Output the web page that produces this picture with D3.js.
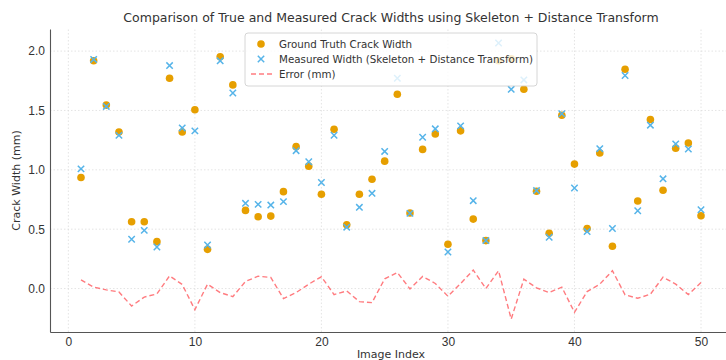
<!DOCTYPE html>
<html>
<head>
<meta charset="utf-8">
<script src="https://cdn.jsdelivr.net/npm/d3@7"></script>
<style>
  body { margin: 0; background: #fff; }
  svg { font-family: "DejaVu Sans", sans-serif; display: block; }
</style>
</head>
<body>
<div id="chart"></div>
<script>
// Data
const imageIndex = d3.range(1, 51);
const groundTruth = [
  0.935, 1.918, 1.545, 1.319, 0.562, 0.562, 0.395, 1.771, 1.319, 1.506,
  0.330, 1.952, 1.715, 0.658, 0.605, 0.610, 0.816, 1.195, 1.031, 0.794,
  1.342, 0.537, 0.794, 0.921, 1.073, 1.636, 0.636, 1.172, 1.302, 0.373,
  1.328, 0.585, 0.404, 1.918, 1.935, 1.678, 0.819, 0.466, 1.460, 1.048,
  0.506, 1.141, 0.356, 1.847, 0.737, 1.424, 0.828, 1.181, 1.226, 0.613
];
const measured = [
  1.008, 1.930, 1.534, 1.290, 0.415, 0.490, 0.350, 1.878, 1.353, 1.328,
  0.367, 1.918, 1.647, 0.718, 0.709, 0.703, 0.732, 1.161, 1.068, 0.893,
  1.291, 0.517, 0.684, 0.802, 1.155, 1.771, 0.633, 1.274, 1.345, 0.308,
  1.370, 0.740, 0.404, 2.068, 1.678, 1.757, 0.825, 0.432, 1.472, 0.847,
  0.480, 1.178, 0.506, 1.794, 0.655, 1.376, 0.924, 1.218, 1.175, 0.664
];
const errorMm = [
  0.073, 0.012, -0.011, -0.029, -0.147, -0.072, -0.045, 0.107, 0.034, -0.178,
  0.037, -0.034, -0.068, 0.060, 0.104, 0.093, -0.084, -0.034, 0.037, 0.099,
  -0.051, -0.020, -0.110, -0.119, 0.082, 0.135, -0.003, 0.102, 0.043, -0.065,
  0.042, 0.155, 0.000, 0.150, -0.257, 0.079, 0.006, -0.034, 0.012, -0.200,
  -0.026, 0.037, 0.150, -0.053, -0.082, -0.048, 0.096, 0.037, -0.051, 0.051
];
const xTicks = [0, 10, 20, 30, 40, 50];
const yTicks = [0.0, 0.5, 1.0, 1.5, 2.0];
const legendLabels = [
  "Ground Truth Crack Width",
  "Measured Width (Skeleton + Distance Transform)",
  "Error (mm)"
];

const width = 726, height = 360;
const margin = { left: 50, right: -6, top: 29, bottom: 28 };
const colGT = "#E69F00", colM = "#56B4E9", colErr = "#FF5A5F";

const svg = d3.select("#chart").append("svg")
  .attr("width", width)
  .attr("height", height);

const x = d3.scaleLinear()
  .domain([-1.45, 52.45])
  .range([margin.left, width - margin.right]);
const y = d3.scaleLinear()
  .domain([-0.366, 2.186])
  .range([height - margin.bottom, margin.top]);

// grid
const grid = svg.append("g");
grid.selectAll("line.gx").data(xTicks).join("line")
  .attr("x1", d => x(d)).attr("x2", d => x(d))
  .attr("y1", y.range()[0]).attr("y2", y.range()[1])
  .attr("stroke", "#ddd").attr("stroke-width", 0.8)
  .attr("stroke-dasharray", "1.5,2");
grid.selectAll("line.gy").data(yTicks).join("line")
  .attr("x1", x.range()[0]).attr("x2", x.range()[1])
  .attr("y1", d => y(d)).attr("y2", d => y(d))
  .attr("stroke", "#ddd").attr("stroke-width", 0.8)
  .attr("stroke-dasharray", "1.5,2");

// axes
const xAxis = svg.append("g")
  .attr("transform", `translate(0,${y.range()[0]})`)
  .call(d3.axisBottom(x).tickValues(xTicks).tickSize(0).tickPadding(5).tickFormat(d3.format("d")));
const yAxis = svg.append("g")
  .attr("transform", `translate(${x.range()[0]},0)`)
  .call(d3.axisLeft(y).tickValues(yTicks).tickSize(0).tickPadding(5).tickFormat(d3.format(".1f")));
[xAxis, yAxis].forEach(a => {
  a.select(".domain").attr("stroke", "#555").attr("stroke-width", 1.1);
  a.selectAll("text").attr("fill", "#333").style("font-size", "12px");
});

// ground truth circles
const idx = d3.range(imageIndex.length);
svg.append("g").selectAll("circle").data(idx).join("circle")
  .attr("cx", i => x(imageIndex[i]))
  .attr("cy", i => y(groundTruth[i]))
  .attr("r", 3.8)
  .attr("fill", colGT);

// measured crosses
const xs = 3.2;
svg.append("g").selectAll("path").data(idx).join("path")
  .attr("d", i => {
    const cx = x(imageIndex[i]), cy = y(measured[i]);
    return `M${cx - xs},${cy - xs}L${cx + xs},${cy + xs}M${cx - xs},${cy + xs}L${cx + xs},${cy - xs}`;
  })
  .attr("stroke", colM).attr("stroke-width", 1.5).attr("fill", "none");

// error line
const line = d3.line().x(i => x(imageIndex[i])).y(i => y(errorMm[i]));
svg.append("path").datum(idx)
  .attr("d", line)
  .attr("fill", "none")
  .attr("stroke", colErr).attr("stroke-opacity", 0.8)
  .attr("stroke-width", 1.4)
  .attr("stroke-dasharray", "5,3");

// title and labels
svg.append("text")
  .attr("x", (x.range()[0] + x.range()[1]) / 2).attr("y", 22)
  .attr("text-anchor", "middle").attr("fill", "#333")
  .style("font-size", "12.5px")
  .text("Comparison of True and Measured Crack Widths using Skeleton + Distance Transform");
svg.append("text")
  .attr("x", (x.range()[0] + x.range()[1]) / 2).attr("y", 358)
  .attr("text-anchor", "middle").attr("fill", "#333")
  .style("font-size", "11px")
  .text("Image Index");
svg.append("text")
  .attr("transform", `translate(20,${(y.range()[0] + y.range()[1]) / 2}) rotate(-90)`)
  .attr("text-anchor", "middle").attr("fill", "#333")
  .style("font-size", "11px")
  .text("Crack Width (mm)");

// legend
const lg = svg.append("g").attr("transform", "translate(245,33)");
lg.append("rect")
  .attr("width", 292).attr("height", 53).attr("rx", 3)
  .attr("fill", "#fff").attr("fill-opacity", 0.8)
  .attr("stroke", "#ccc").attr("stroke-width", 0.8);
const rowY = [11, 26, 41];
lg.append("circle").attr("cx", 16).attr("cy", rowY[0]).attr("r", 3.8).attr("fill", colGT);
lg.append("path")
  .attr("d", `M${16 - xs},${rowY[1] - xs}L${16 + xs},${rowY[1] + xs}M${16 - xs},${rowY[1] + xs}L${16 + xs},${rowY[1] - xs}`)
  .attr("stroke", colM).attr("stroke-width", 1.5);
lg.append("line").attr("x1", 6).attr("x2", 27).attr("y1", rowY[2]).attr("y2", rowY[2])
  .attr("stroke", colErr).attr("stroke-opacity", 0.8).attr("stroke-width", 1.4)
  .attr("stroke-dasharray", "5,3");
lg.selectAll("text").data(legendLabels).join("text")
  .attr("x", 34).attr("y", (d, i) => rowY[i] + 4)
  .attr("fill", "#333").style("font-size", "10.3px")
  .text(d => d);
</script>
</body>
</html>
